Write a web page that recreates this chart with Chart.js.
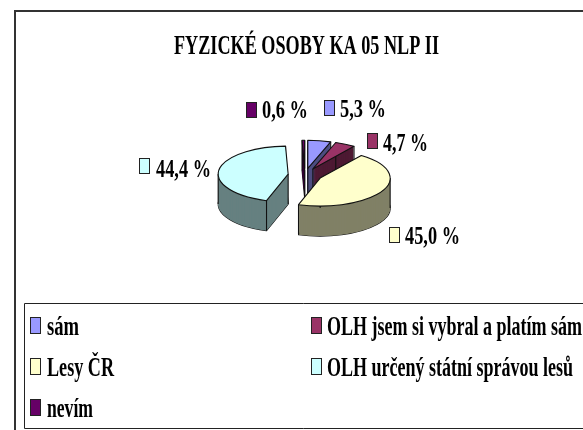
<!DOCTYPE html>
<html><head><meta charset="utf-8">
<style>html,body{margin:0;padding:0;background:#fff}#w{position:absolute;left:0;top:0;width:583px;height:430px}</style>
<script src="https://cdn.jsdelivr.net/npm/chart.js@4/dist/chart.umd.min.js"></script>
</head><body><div id="w"><canvas id="c" width="583" height="430"></canvas></div>
<script>
const titleText = 'FYZICKÉ OSOBY KA 05 NLP II';
const categories = ['sám','OLH jsem si vybral a platím sám','Lesy ČR','OLH určený státní správou lesů','nevím'];
const shares = [5.3,4.7,45.0,44.4,0.6];
const faceColors = ['#9999FF','#993366','#FFFFCC','#CCFFFF','#660066'];
const wallColors = ['#4D4D80','#4D1A33','#808066','#668080','#330033'];
const paintOrder = [4,0,1,3,2];
const labelSpots = [[324,100,340,117,46],[367,133,383,151,45],[389,227,405,244,55],[139,158,156,177,55],[246,102,262,118,46]];
const legendSpots = [[30,317,47,335,32],[311,317,327,335,255],[30,358,47,376,67],[311,358,327,376,246],[30,399,47,417,46]];
const TILT=0.4, DEPTH=30, EXPLODE=17;
const TITLE_FONT='bold 27px "Liberation Serif"', LABEL_FONT='bold 26px "Liberation Serif"', LEGEND_FONT='bold 27px "Liberation Serif"';
const pct=v=>v.toFixed(1).replace('.',',')+' %';
function swatch(ctx,x,y,w,h,c){ctx.fillStyle=c;ctx.fillRect(x,y,w,h);ctx.strokeStyle='#222';ctx.lineWidth=1;ctx.strokeRect(x+.5,y+.5,w-1,h-1);}
const pie3d={id:'pie3d',
 beforeDatasetDraw(){return false;},
 afterDatasetsDraw(chart){
  const ctx=chart.ctx, arcs=chart.getDatasetMeta(0).data;
  const path=(a,d)=>{const m=(a.startAngle+a.endAngle)/2,x=a.x+Math.cos(m)*EXPLODE,y=a.y+Math.sin(m)*EXPLODE*TILT+d,r=a.outerRadius;
   ctx.beginPath();ctx.moveTo(x,y);ctx.ellipse(x,y,r,r*TILT,0,a.startAngle,a.endAngle);ctx.closePath();return [x,y,r];};
  const paint=(a,color,d)=>{const m=(a.startAngle+a.endAngle)/2,keep=a.options;
   a.options={backgroundColor:color,borderColor:color,borderWidth:0,borderAlign:'center',offset:0,spacing:0,circular:true,borderRadius:0};
   ctx.save();ctx.translate(Math.cos(m)*EXPLODE,Math.sin(m)*EXPLODE*TILT+d);
   ctx.translate(a.x,a.y);ctx.scale(1,TILT);ctx.translate(-a.x,-a.y);a.draw(ctx);ctx.restore();a.options=keep;};
  ctx.save();ctx.strokeStyle='#111';ctx.lineWidth=1.1;ctx.lineJoin='round';
  paintOrder.forEach(i=>{const a=arcs[i];
   path(a,DEPTH);ctx.stroke();
   for(let d=DEPTH;d>0;d-=1)paint(a,wallColors[i],d);
   const [x,y,r]=path(a,0);
   const pts=[[x,y],[x+r*Math.cos(a.startAngle),y+r*TILT*Math.sin(a.startAngle)],[x+r*Math.cos(a.endAngle),y+r*TILT*Math.sin(a.endAngle)]];
   const T=Math.PI*2;[0,Math.PI].forEach(t=>{for(const k of [t,t+T])if(k>=a.startAngle&&k<=a.endAngle)pts.push([x+r*Math.cos(k),y]);});
   ctx.beginPath();pts.forEach(p=>{ctx.moveTo(p[0],p[1]);ctx.lineTo(p[0],p[1]+DEPTH);});ctx.stroke();
   paint(a,faceColors[i],0);path(a,0);ctx.stroke();
  });
  ctx.restore();
 },
 afterDraw(chart){
  const ctx=chart.ctx,labels=chart.data.labels,vals=chart.data.datasets[0].data;
  ctx.save();
  ctx.strokeStyle='#333';ctx.lineWidth=2;ctx.beginPath();ctx.moveTo(15,430);ctx.lineTo(15,11);ctx.lineTo(583,11);ctx.stroke();
  ctx.lineWidth=1;ctx.strokeStyle='#222';ctx.beginPath();ctx.moveTo(583,303.5);ctx.lineTo(24.5,303.5);ctx.lineTo(24.5,428.5);ctx.lineTo(583,428.5);ctx.stroke();
  ctx.fillStyle='#000';ctx.textBaseline='alphabetic';ctx.textAlign='left';ctx.font=TITLE_FONT;
  ctx.fillText(titleText,174,54,265);
  ctx.font=LABEL_FONT;
  vals.forEach((v,i)=>{const s=labelSpots[i];swatch(ctx,s[0],s[1],11,16,faceColors[i]);ctx.fillStyle='#000';ctx.fillText(pct(v),s[2],s[3],s[4]);});
  ctx.font=LEGEND_FONT;
  labels.forEach((t,i)=>{const s=legendSpots[i];swatch(ctx,s[0],s[1],11,17,faceColors[i]);ctx.fillStyle='#000';ctx.fillText(t,s[2],s[3],s[4]);});
  ctx.restore();
 }};
new Chart(document.getElementById('c'),{type:'pie',
 data:{labels:categories,datasets:[{data:shares,backgroundColor:faceColors,borderWidth:0}]},
 options:{responsive:false,animation:false,radius:70,
  layout:{padding:{left:27,right:0,top:0,bottom:80}},
  plugins:{legend:{display:false},title:{display:false},tooltip:{enabled:false}}},
 plugins:[pie3d]});
</script></body></html>
